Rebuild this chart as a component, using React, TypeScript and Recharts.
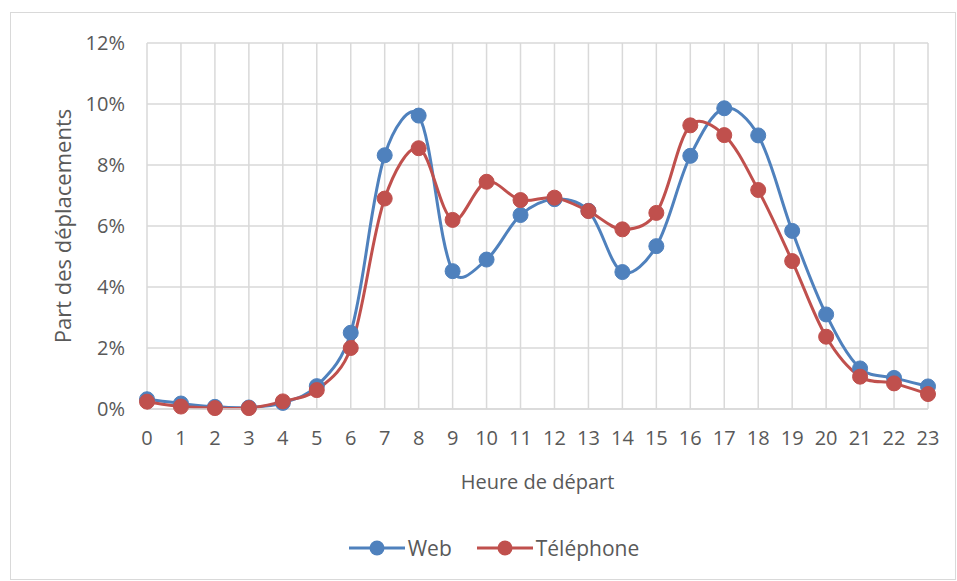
import { LineChart, Line, XAxis, YAxis, CartesianGrid, Legend } from "recharts";

const hours = [0, 1, 2, 3, 4, 5, 6, 7, 8, 9, 10, 11, 12, 13, 14, 15, 16, 17, 18, 19, 20, 21, 22, 23];
const web = [0.32, 0.18, 0.07, 0.05, 0.2, 0.75, 2.5, 8.32, 9.62, 4.52, 4.9, 6.36, 6.88, 6.5, 4.49, 5.34, 8.3, 9.86, 8.97, 5.84, 3.1, 1.33, 1.02, 0.74];
const telephone = [0.24, 0.08, 0.03, 0.03, 0.25, 0.62, 2.0, 6.9, 8.55, 6.2, 7.45, 6.85, 6.93, 6.49, 5.89, 6.43, 9.3, 8.98, 7.18, 4.85, 2.37, 1.06, 0.84, 0.49];
const yTicks = [0, 2, 4, 6, 8, 10, 12];

const WEB_COLOR = "#4F81BD";
const TEL_COLOR = "#C0504D";
const TEXT_COLOR = "#595959";
const FONT = "'Open Sans', sans-serif";

const data = hours.map((h, i) => ({ hour: h, web: web[i], tel: telephone[i] }));

const dist = (a: number[], b: number[]) => Math.hypot(b[0] - a[0], b[1] - a[1]) || 1;

// smooth line like the spreadsheet one: bezier, tangents partly weighted by segment length
const smoothCurve = (context: any) => {
  let pts: number[][] = [];
  return {
    areaStart() {},
    areaEnd() {},
    lineStart() {
      pts = [];
    },
    point(x: number, y: number) {
      pts.push([+x, +y]);
    },
    lineEnd() {
      if (!pts.length) return;
      context.moveTo(pts[0][0], pts[0][1]);
      for (let i = 0; i < pts.length - 1; i++) {
        const p0 = pts[i - 1] || pts[i];
        const p1 = pts[i];
        const p2 = pts[i + 1];
        const p3 = pts[i + 2] || p2;
        const d01 = dist(p0, p1);
        const d12 = dist(p1, p2);
        const d23 = dist(p2, p3);
        const a = i === 0 ? 1 / 6 : (d12 / (d01 + d12) / 3 + 1 / 6) / 2;
        const b = i + 2 >= pts.length ? 1 / 6 : (d12 / (d12 + d23) / 3 + 1 / 6) / 2;
        context.bezierCurveTo(
          p1[0] + (p2[0] - p0[0]) * a,
          p1[1] + (p2[1] - p0[1]) * a,
          p2[0] - (p3[0] - p1[0]) * b,
          p2[1] - (p3[1] - p1[1]) * b,
          p2[0],
          p2[1]
        );
      }
    },
  };
};

const legendItems = [
  { name: "Web", color: WEB_COLOR },
  { name: "Téléphone", color: TEL_COLOR },
];

const LegendContent = () => (
  <div style={{ display: "flex", justifyContent: "center", alignItems: "center", height: 30, paddingLeft: 60 }}>
    {legendItems.map((it, i) => (
      <div key={it.name} style={{ display: "flex", alignItems: "center", marginRight: i === 0 ? 25 : 0 }}>
        <svg width={56} height={20}>
          <line x1={0} y1={10} x2={56} y2={10} stroke={it.color} strokeWidth={3} />
          <circle cx={28} cy={10} r={7.5} fill={it.color} />
        </svg>
        <span style={{ fontFamily: FONT, fontSize: 21, color: TEXT_COLOR, marginLeft: 3 }}>{it.name}</span>
      </div>
    ))}
  </div>
);

const YTitle = () => (
  <text
    x={62}
    y={226}
    transform="rotate(-90 62 226)"
    textAnchor="middle"
    dominantBaseline="central"
    fill={TEXT_COLOR}
    fontFamily={FONT}
    fontSize={22}
  >
    Part des déplacements
  </text>
);

export default function App() {
  return (
    <div style={{ position: "absolute", left: 0, top: 0, width: 957, height: 580, background: "#fff" }}>
      <div
        style={{
          position: "absolute",
          left: 10,
          top: 12,
          width: 946,
          height: 568,
          border: "1px solid #d9d9d9",
          boxSizing: "border-box",
        }}
      />
      <div style={{ position: "absolute", left: 0, top: 0 }}>
        <LineChart width={957} height={580} data={data} margin={{ top: 43, right: 29, left: 0, bottom: 17 }}>
          <CartesianGrid stroke="#d9d9d9" strokeWidth={1.5} verticalValues={hours} />
          <XAxis
            dataKey="hour"
            type="number"
            domain={[0, 23]}
            ticks={hours}
            interval={0}
            height={124}
            axisLine={{ stroke: "#d9d9d9", strokeWidth: 1.5 }}
            tickLine={false}
            tickSize={0}
            tickMargin={22}
            tick={{ fill: TEXT_COLOR, fontFamily: FONT, fontSize: 20 }}
            label={{
              value: "Heure de départ",
              position: "insideBottom",
              offset: 44,
              fill: TEXT_COLOR,
              fontFamily: FONT,
              fontSize: 20,
            }}
          />
          <YAxis
            width={147}
            domain={[0, 12]}
            ticks={yTicks}
            interval={0}
            axisLine={false}
            tickLine={false}
            tickSize={0}
            tickMargin={22}
            tickFormatter={(v) => `${v}%`}
            tick={{ fill: TEXT_COLOR, fontFamily: FONT, fontSize: 20 }}
            label={<YTitle />}
          />
          <Legend verticalAlign="bottom" height={30} content={<LegendContent />} />
          <Line
            dataKey="web"
            name="Web"
            type={smoothCurve as any}
            stroke={WEB_COLOR}
            strokeWidth={3}
            dot={{ r: 7.5, fill: WEB_COLOR, stroke: WEB_COLOR, strokeWidth: 1 }}
            activeDot={false}
            isAnimationActive={false}
          />
          <Line
            dataKey="tel"
            name="Téléphone"
            type={smoothCurve as any}
            stroke={TEL_COLOR}
            strokeWidth={3}
            dot={{ r: 7.5, fill: TEL_COLOR, stroke: TEL_COLOR, strokeWidth: 1 }}
            activeDot={false}
            isAnimationActive={false}
          />
        </LineChart>
      </div>
    </div>
  );
}
